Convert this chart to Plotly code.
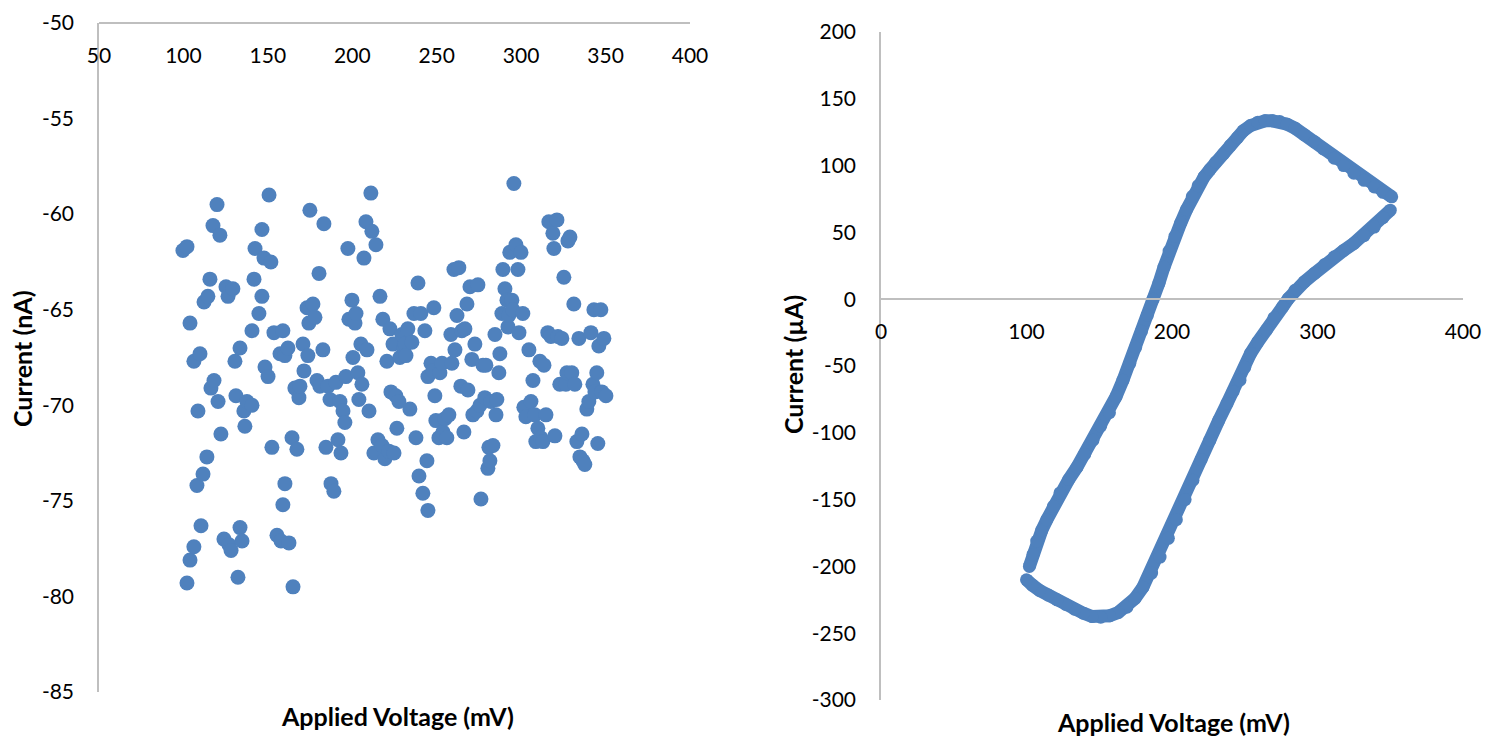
import plotly.graph_objects as go

W, H = 1486, 737

# ---- Left chart: noise current vs applied voltage ----
noise_pairs = [
    (99.7,-61.9),(102.1,-61.7),(103.9,-65.7),(106.2,-67.7),(102.1,-79.3),(103.9,-78.1),(106.2,-77.4),(108.0,-74.2),
    (108.6,-70.3),(109.8,-67.3),(110.4,-76.3),(111.6,-73.6),(112.2,-64.6),(113.9,-72.7),(114.5,-64.3),(115.7,-63.4),
    (116.3,-69.1),(117.5,-60.6),(118.1,-68.7),(119.9,-59.5),(120.5,-69.8),(121.6,-61.1),(122.2,-71.5),(124.0,-77.0),
    (125.2,-63.8),(126.4,-64.3),(127.0,-77.3),(128.2,-77.6),(129.3,-63.9),(130.5,-67.7),(131.1,-69.5),(132.3,-79.0),
    (133.5,-76.4),(133.5,-67.0),(134.7,-77.1),(135.8,-70.3),(136.4,-71.1),(137.6,-69.8),(140.6,-70.0),(140.6,-66.1),
    (141.8,-63.4),(142.4,-61.8),(144.7,-65.2),(146.5,-64.3),(146.5,-60.8),(147.7,-62.3),(148.3,-68.0),(150.1,-68.5),
    (150.7,-59.0),(151.8,-62.5),(152.4,-72.2),(153.6,-66.2),(155.4,-76.8),(157.2,-67.3),(157.8,-77.1),(158.9,-66.1),
    (158.9,-75.2),(160.1,-67.4),(160.1,-74.1),(161.9,-67.0),(162.5,-77.2),(164.3,-71.7),(164.9,-79.5),(166.0,-69.1),
    (167.2,-72.3),(168.4,-69.6),(169.0,-69.0),(170.8,-66.8),(171.4,-68.2),(173.2,-64.9),(173.7,-67.4),(174.3,-65.7),
    (174.9,-59.8),(176.7,-64.7),(177.9,-65.4),(179.1,-68.7),(180.3,-63.1),(180.8,-69.0),(182.6,-67.1),(183.2,-60.5),
    (184.4,-72.2),(185.6,-69.0),(186.8,-69.7),(187.4,-74.1),(189.1,-74.5),(190.3,-68.8),(191.5,-71.8),(192.7,-69.8),
    (193.3,-72.5),(194.5,-70.3),(195.6,-70.9),(196.2,-68.5),(197.4,-61.8),(198.0,-65.5),(199.8,-64.5),(200.4,-67.5),
    (201.6,-65.7),(202.2,-65.2),(203.3,-68.3),(203.9,-69.7),(205.1,-66.8),(205.7,-68.9),(206.9,-62.3),(208.1,-60.4),
    (208.7,-67.1),(209.9,-70.3),(211.0,-58.9),(211.6,-60.9),(212.8,-72.5),(214.0,-61.6),(215.2,-71.8),(216.4,-64.3),
    (217.6,-72.1),(218.1,-65.5),(219.3,-72.8),(220.5,-67.7),(221.7,-72.4),(222.3,-66.0),(222.9,-69.3),(224.1,-66.8),
    (224.7,-72.5),(225.8,-69.5),(226.4,-71.2),(227.6,-69.8),(228.2,-67.5),(229.4,-66.3),(230.6,-67.0),(231.2,-66.8),
    (231.8,-67.4),(232.9,-66.0),(234.1,-70.2),(235.3,-66.7),(236.5,-65.2),(237.7,-71.7),(238.9,-63.6),(239.5,-73.7),
    (240.6,-65.2),(241.8,-74.6),(243.0,-66.1),(244.2,-72.9),(244.8,-68.5),(244.8,-75.5),(246.6,-67.8),(247.8,-68.2),
    (248.3,-64.9),(248.9,-69.5),(249.5,-70.8),(251.3,-71.7),(251.9,-68.3),(253.1,-67.8),(253.7,-71.4),(254.9,-70.7),
    (256.0,-71.7),(257.2,-70.5),(258.4,-66.3),(259.0,-67.8),(260.2,-62.9),(260.8,-67.1),(262.0,-65.3),(263.1,-62.8),
    (264.3,-69.0),(264.9,-66.1),(266.1,-71.4),(266.7,-66.0),(267.9,-64.7),(268.5,-69.2),(269.7,-63.8),(270.8,-67.6),
    (271.4,-70.5),(272.6,-66.8),(273.8,-70.3),(274.4,-63.7),(275.6,-70.0),(276.2,-74.9),(277.4,-67.9),(278.5,-69.6),
    (279.1,-67.9),(280.3,-73.3),(280.9,-72.2),(281.5,-72.9),(282.1,-69.8),(283.3,-72.1),(284.5,-66.3),(285.1,-70.5),
    (285.6,-69.7),(286.8,-68.3),(287.4,-67.3),(288.6,-65.2),(289.2,-62.9),(290.4,-63.9),(291.6,-64.5),(292.2,-65.9),
    (292.7,-65.3),(293.3,-62.0),(294.5,-64.5),(295.1,-65.0),(295.7,-58.4),(296.9,-61.6),(298.1,-62.9),(298.7,-66.2),
    (299.9,-62.0),(301.0,-65.2),(301.6,-70.1),(302.8,-70.6),(304.6,-67.1),(305.8,-69.8),(307.0,-68.7),(308.1,-70.5),
    (308.7,-71.9),(309.9,-71.2),(311.1,-67.7),(311.7,-71.7),(312.9,-71.9),(313.5,-67.9),(314.7,-70.5),(315.8,-66.2),
    (316.4,-60.4),(317.6,-66.4),(318.8,-61.0),(319.4,-61.8),(320.0,-71.6),(321.2,-60.3),(321.8,-66.4),(322.9,-68.9),
    (324.1,-66.5),(325.3,-63.3),(326.5,-68.9),(327.1,-68.3),(327.7,-61.4),(328.9,-61.2),(330.0,-68.3),(331.2,-64.7),
    (331.8,-68.9),(333.0,-71.9),(334.2,-66.5),(334.8,-72.7),(336.0,-71.5),(336.6,-72.9),(337.7,-73.1),(338.9,-70.2),
    (340.1,-69.8),(341.3,-66.2),(342.5,-68.9),(343.1,-65.0),(343.7,-69.3),(344.8,-68.3),(345.4,-72.0),(346.0,-66.9),
    (347.2,-65.0),(347.8,-69.3),(349.0,-66.5),(350.2,-69.5),
]
noise_voltage_mV = [p[0] for p in noise_pairs]
noise_current_nA = [p[1] for p in noise_pairs]

# ---- Right chart: cyclic voltammogram (forward sweep, then reverse sweep) ----
fwd_pairs = [
    (102,-200),(104.5,-191),(107,-181),(110.5,-173),(114,-165),(118.5,-155),(123,-145),(129,-135),
    (134.7,-125.7),(140,-116),(145.7,-105.5),(151,-95),(157,-85),(161.5,-73),(166.3,-60.6),(171,-48),
    (175,-36),(179,-24),(183,-12),(187,0),(191,12),(194.5,24),(198,36),(202,47),(206,57),(210,67),
    (214,77),(218,85),(222,91.5),(226,97),(230,102.5),(235.5,109),(240,115),(245,121),(249,126),
    (254,130),(259,132.5),(264,133.5),(269,133.5),(274,133),(279,131),(284.5,128),(291,123),
    (298,117.8),(304,112.5),(311.5,105.5),(318,100),(325,94.3),(332,89),(339,84),(345,80),(351,76.6),
]
rev_pairs = [
    (350,66.6),(345,61),(339,54),(332,47.5),(325,41.8),(318,36.5),(311.5,31.7),(305,26),(298,19.4),
    (291,13),(284.5,6.7),(280,0.5),(276,-5.8),(270,-14),(265,-23),(259,-32),(254,-40.6),(250,-51),
    (246.7,-60.6),(242,-69),(237.8,-78),(232,-91),(226,-105.5),(220,-120),(214.4,-135.5),(209,-150),
    (203,-165),(197.5,-179),(191.8,-193),(186,-205),(180,-215.6),(174.5,-224),(169,-230.5),(163,-234.5),
    (157,-237),(151,-238),(145,-237.5),(139,-235),(133,-232),(127,-228.5),(121,-225),(115,-221.5),
    (109,-218),(104,-214),(100,-210),
]
fwd_voltage_mV = [p[0] for p in fwd_pairs]
fwd_current_uA = [p[1] for p in fwd_pairs]
rev_voltage_mV = [p[0] for p in rev_pairs]
rev_current_uA = [p[1] for p in rev_pairs]

left_x_ticks = [50, 100, 150, 200, 250, 300, 350, 400]
left_y_ticks = [-50, -55, -60, -65, -70, -75, -80, -85]
right_x_ticks = [0, 100, 200, 300, 400]
right_y_ticks = [200, 150, 100, 50, 0, -50, -100, -150, -200, -250, -300]

BLUE = "#4F81BD"
AXIS = "#BFBFBF"
FONT = "Lato"

def px_x(p):
    return p / W

def px_y(p):
    return 1 - p / H

def labels(vals):
    return [str(v) for v in vals]  # plain hyphen minus, as in the original

# plot areas in pixels
L = dict(x0=99, x1=690, y0=23, y1=692)
R = dict(x0=881, x1=1463, y0=32, y1=700)

fig = go.Figure()
fig.add_trace(go.Scatter(x=noise_voltage_mV, y=noise_current_nA, mode="markers",
                         marker=dict(color=BLUE, size=15, line=dict(width=0)),
                         xaxis="x", yaxis="y", showlegend=False, hoverinfo="skip"))
for xs, ys in ((fwd_voltage_mV, fwd_current_uA), (rev_voltage_mV, rev_current_uA)):
    fig.add_trace(go.Scatter(x=xs, y=ys, mode="lines+markers",
                             line=dict(color=BLUE, width=13),
                             marker=dict(color=BLUE, size=13, line=dict(width=0)),
                             xaxis="x2", yaxis="y2", showlegend=False, hoverinfo="skip"))

tickfont = dict(family=FONT, size=21, color="#000000")
common = dict(showgrid=False, zeroline=False, showline=True, linecolor=AXIS, linewidth=1.5,
              ticks="", tickfont=tickfont, fixedrange=True, automargin=False)

yL_top = px_y(L["y0"])
yL_bot = px_y(L["y1"])
yR_top = px_y(R["y0"])
yR_bot = px_y(R["y1"])
zero_pos = yR_bot + (0 - (-300)) / 500 * (yR_top - yR_bot)

fig.update_layout(
    width=W, height=H, margin=dict(l=0, r=0, t=0, b=0, autoexpand=False),
    paper_bgcolor="white", plot_bgcolor="white",
    xaxis=dict(domain=[px_x(L["x0"]), px_x(L["x1"])], range=[50, 400],
               tickvals=left_x_ticks, ticktext=labels(left_x_ticks),
               anchor="free", position=yL_top, side="bottom", ticklabelstandoff=14, **common),
    yaxis=dict(domain=[yL_bot, yL_top], range=[-85, -50],
               tickvals=left_y_ticks, ticktext=labels(left_y_ticks),
               anchor="x", ticklabelstandoff=19, **common),
    xaxis2=dict(domain=[px_x(R["x0"]), px_x(R["x1"])], range=[0, 400],
                tickvals=right_x_ticks, ticktext=labels(right_x_ticks),
                anchor="free", position=zero_pos, side="bottom", ticklabelstandoff=14, **common),
    yaxis2=dict(domain=[yR_bot, yR_top], range=[-300, 200],
                tickvals=right_y_ticks, ticktext=labels(right_y_ticks),
                anchor="x2", ticklabelstandoff=19, **common),
)

title_font = dict(family=FONT, size=25, color="#000000")
annos = [
    dict(text="<b>Current (nA)</b>", x=px_x(22), y=px_y(359), textangle=-90),
    dict(text="<b>Applied Voltage (mV)</b>", x=px_x(397), y=px_y(716), textangle=0),
    dict(text="<b>Current (µA)</b>", x=px_x(793), y=px_y(365), textangle=-90),
    dict(text="<b>Applied Voltage (mV)</b>", x=px_x(1173), y=px_y(722), textangle=0),
]
for a in annos:
    fig.add_annotation(xref="paper", yref="paper", xanchor="center", yanchor="middle",
                       showarrow=False, font=title_font, **a)

fig.write_html("out.html")
